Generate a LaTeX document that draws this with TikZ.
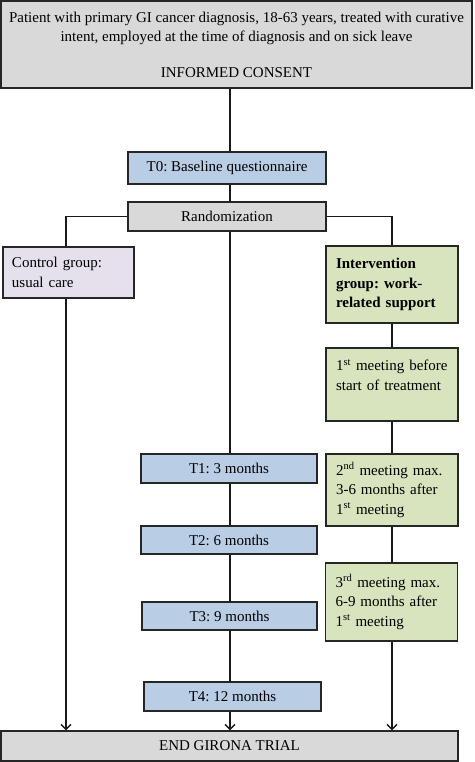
\documentclass[tikz,border=0pt]{standalone}
\usepackage{fontspec}
\setmainfont{Liberation Serif}
\usepackage{tikz}
\usetikzlibrary{calc,arrows.meta}
\definecolor{boxgray}{HTML}{D9D9D9}
\definecolor{boxblue}{HTML}{B9CDE5}
\definecolor{boxlilac}{HTML}{E5E0EC}
\definecolor{boxgreen}{HTML}{D7E4BD}
\tikzset{
	box/.style={draw=black!85, line width=1.4pt, inner sep=0pt, font=\fontsize{15}{19.5}\selectfont\frenchspacing},
	tbox/.style={box, fill=boxblue},
	gbox/.style={box, fill=boxgreen, text width=112pt, align=left, minimum width=132pt},
	link/.style={line width=1.4pt, draw=black!90},
	arr/.style={link, -{Straight Barb[length=5pt,width=10pt,line width=1.4pt]}}
}
\begin{document}
\begin{tikzpicture}[x=1pt,y=-1pt]
			\useasboundingbox (0,0) rectangle (474,762);
			\coordinate(S) at (230,0);
			\coordinate(L) at (66,0);
			\coordinate(R) at (392,0);
			
			\node[box, fill=boxgray, minimum width=471pt, minimum height=87pt, align=center] (top) at (236.5,44.5)
				{Patient with primary GI cancer diagnosis, 18-63 years, treated with curative\\
				intent, employed at the time of diagnosis and on sick leave\\[16pt]
				INFORMED CONSENT};
			\node[tbox, minimum width=198pt, minimum height=32pt] (T0) at (227,168) {T0: Baseline questionnaire};
			\node[box, fill=boxgray, minimum width=198pt, minimum height=29pt] (rand) at (227,216.5) {Randomization};
			
			\node[box, fill=boxlilac, minimum width=131pt, minimum height=51pt, text width=113pt, align=left] (ctrl) at (68.5,272.5)
				{Control group:\\ usual care};
			\node[gbox, minimum height=77pt, font=\fontsize{15}{19.5}\selectfont\frenchspacing\bfseries] (int) at (392,284.5)
				{Intervention\\ group: work-\\ related support};
			\node[gbox, minimum height=73pt] (M1) at (392,384.5)
				{1\textsuperscript{st} meeting before\\ start of treatment\\ ~};
			\node[gbox, minimum height=72pt] (M2) at (392,490)
				{2\textsuperscript{nd} meeting max.\\ 3-6 months after\\ 1\textsuperscript{st} meeting};
			\node[gbox, minimum height=78pt] (M3) at (391.5,602)
				{3\textsuperscript{rd} meeting max.\\ 6-9 months after\\ 1\textsuperscript{st} meeting};
			
			\node[tbox, minimum width=176pt, minimum height=29pt] (T1) at (229,468.5) {T1: 3 months};
			\node[tbox, minimum width=176pt, minimum height=28pt] (T2) at (229,540) {T2: 6 months};
			\node[tbox, minimum width=175pt, minimum height=28pt] (T3) at (229.5,616) {T3: 9 months};
			\node[tbox, minimum width=177pt, minimum height=29pt] (T4) at (232.5,696.5) {T4: 12 months};
			
			\node[box, fill=boxgray, minimum width=457pt, minimum height=30pt] (end) at (229.5,746) {END GIRONA TRIAL};
			
			\draw[link] (top.south -| S) -- (T0.north -| S);
			\draw[link] (T0.south -| S) -- (rand.north -| S);
			\draw[link] (rand.west) -| (ctrl.north -| L);
			\draw[link] (rand.east) -| (int.north -| R);
			\draw[link] (rand.south -| S) -- (T1.north -| S);
			\draw[link] (T1.south -| S) -- (T2.north -| S);
			\draw[link] (T2.south -| S) -- (T3.north -| S);
			\draw[link] (T3.south -| S) -- (T4.north -| S);
			\draw[link] (int.south -| R) -- (M1.north -| R);
			\draw[link] (M1.south -| R) -- (M2.north -| R);
			\draw[link] (M2.south -| R) -- (M3.north -| R);
			
			\draw[arr] (ctrl.south -| L) -- (end.north -| L);
			\draw[arr] (T4.south -| S) -- (end.north -| S);
			\draw[arr] (M3.south -| R) -- (end.north -| R);
		\end{tikzpicture}
\end{document}
